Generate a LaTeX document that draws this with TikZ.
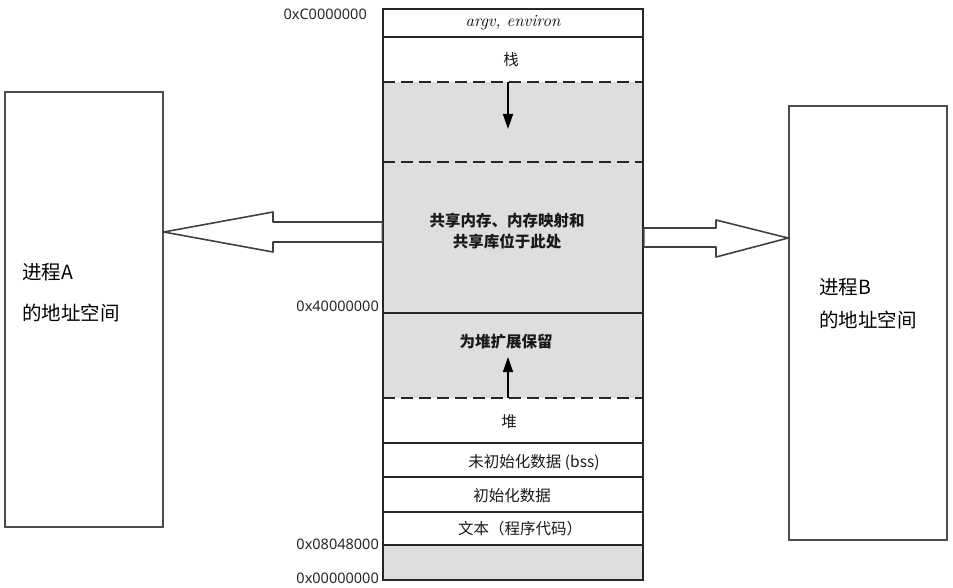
\documentclass[tikz,border=0pt]{standalone}
\usepackage{fontspec}
\newfontfamily\cjk{Noto Sans CJK SC}
\newfontfamily\addrfont{Noto Sans}
\usetikzlibrary{arrows.meta}
\definecolor{memgray}{RGB}{222,222,222}
\tikzset{
  rowline/.style={line width=1.3pt,black!85},
  dashline/.style={line width=1.3pt,black!85,dash pattern=on 12pt off 6pt},
  memlabel/.style={font=\cjk\fontsize{15.5}{17}\selectfont,inner sep=0pt,black!90},
  memlabelb/.style={font=\cjk\bfseries\fontsize{15.5}{21}\selectfont,inner sep=0pt,align=center,black!90},
  addr/.style={font=\addrfont\fontsize{14.5}{16}\selectfont,inner sep=0pt,anchor=east,black!85},
  procbox/.style={draw=black!70,line width=1.6pt,fill=white,inner sep=0pt},
  proctext/.style={font=\cjk\fontsize{19.5}{22}\selectfont,inner sep=0pt,anchor=west},
  blockarrow/.style={draw=black!75,line width=1.6pt,fill=white,line join=round},
  growarrow/.style={line width=1.4pt,-{Triangle[length=15pt,width=10pt]}}
}
\begin{document}
\begin{tikzpicture}[x=1pt,y=-1pt]
\useasboundingbox (0,0) rectangle (953,588);
% gray regions
\fill[memgray] (383,82) rectangle (643,398);
\fill[memgray] (383,545) rectangle (643,580);
% memory column
\node[draw=black!85,line width=1.4pt,minimum width=260pt,minimum height=571pt,inner sep=0pt] (mem) at (513,294.5) {};
\draw[rowline] (383,37) -- (643,37);
\draw[dashline] (383,82) -- (643,82);
\draw[dashline] (383,162) -- (643,162);
\draw[rowline] (383,313) -- (643,313);
\draw[dashline] (383,398) -- (643,398);
\draw[rowline] (383,443) -- (643,443);
\draw[rowline] (383,477) -- (643,477);
\draw[rowline] (383,512) -- (643,512);
\draw[rowline] (383,545) -- (643,545);
% row labels
\node[font=\itshape\fontsize{17}{18}\selectfont,inner sep=0pt] (argv) at (513,23) {argv, environ};
\node[memlabel] (stack) at (511,60) {栈};
\node[memlabelb] (shared) at (507,231.5) {共享内存、内存映射和\\共享库位于此处};
\node[memlabelb] (reserve) at (506,342) {为堆扩展保留};
\node[memlabel] (heap) at (509,422) {堆};
\node[memlabel] (bss) at (534,462) {未初始化数据 (bss)};
\node[memlabel] (data) at (512,496) {初始化数据};
\node[memlabel] (text) at (520,529) {文本（程序代码）};
% growth arrows
\coordinate (stacktop) at (508,82);
\coordinate (stackend) at (508,129);
\coordinate (heaptop) at (508,398);
\coordinate (heapend) at (508,357);
\draw[growarrow] (stacktop) -- (stackend);
\draw[growarrow] (heaptop) -- (heapend);
% addresses
\node[addr] (a1) at (367,14) {0xC0000000};
\node[addr] (a2) at (379,306) {0x40000000};
\node[addr] (a3) at (379,544) {0x08048000};
\node[addr] (a4) at (379,578) {0x00000000};
% process boxes
\node[procbox,minimum width=158pt,minimum height=435pt] (procA) at (84,309.5) {};
\node[procbox,minimum width=158pt,minimum height=434pt] (procB) at (868,323) {};
\node[proctext] (pa1) at (22,272) {进程A};
\node[proctext] (pa2) at (22,313) {的地址空间};
\node[proctext] (pb1) at (819,287) {进程B};
\node[proctext] (pb2) at (819,320) {的地址空间};
% block arrows
\draw[blockarrow] (mem.west |- 0,222) -- (273,222) -- (273,212) -- (procA.east |- 0,232) -- (273,252) -- (273,242) -- (mem.west |- 0,242) -- cycle;
\draw[blockarrow] (mem.east |- 0,228) -- (716,228) -- (716,220) -- (procB.west |- 0,238) -- (716,257) -- (716,247) -- (mem.east |- 0,247) -- cycle;
\end{tikzpicture}
\end{document}
